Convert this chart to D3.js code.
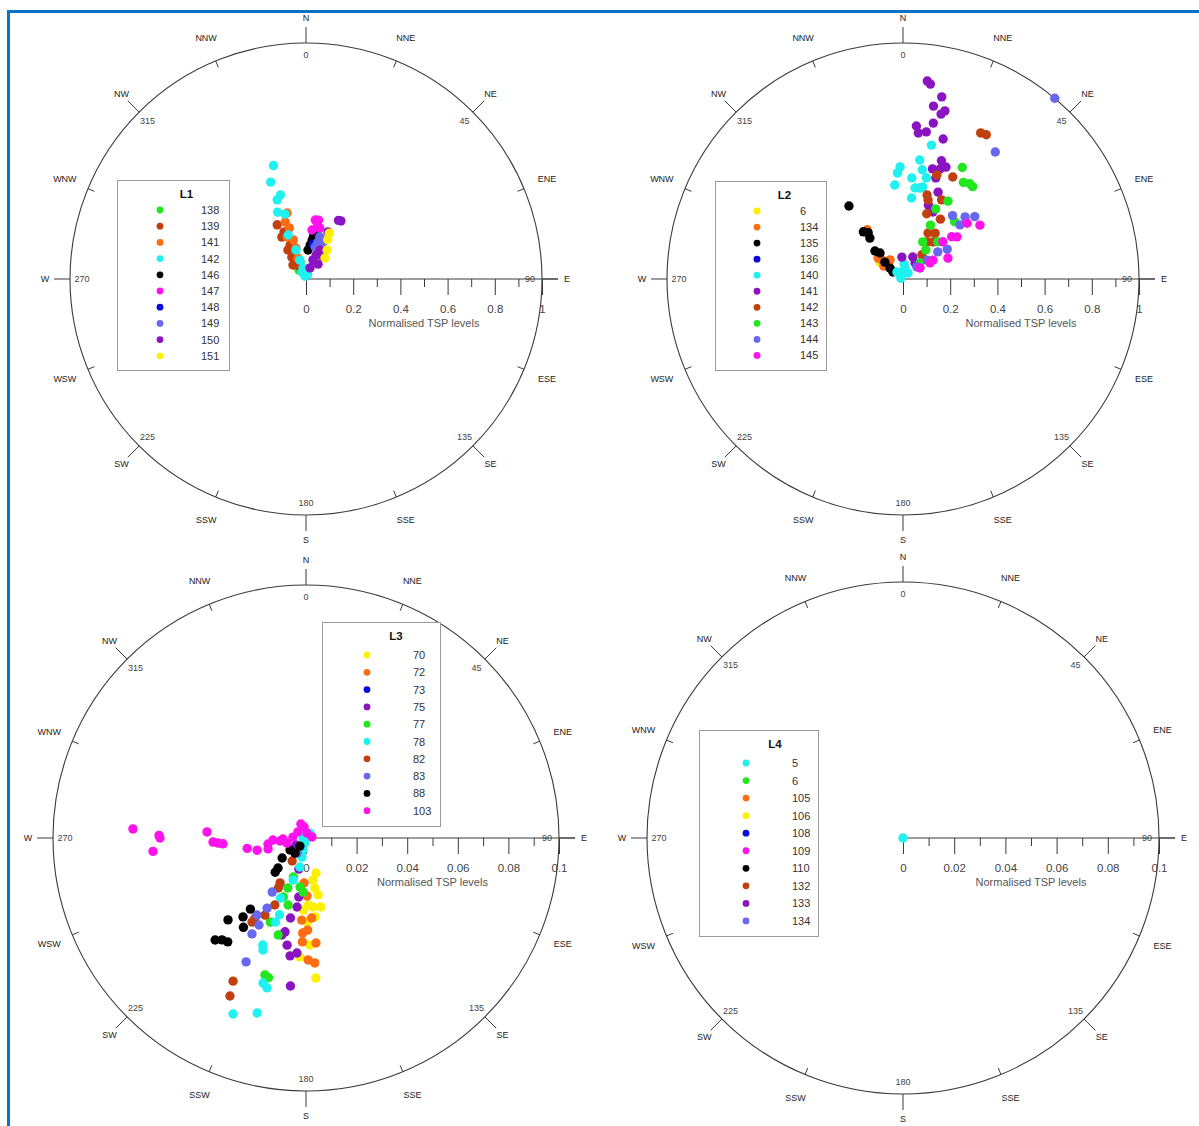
<!DOCTYPE html>
<html>
<head>
<meta charset="utf-8">
<script src="https://cdn.jsdelivr.net/npm/d3@7"></script>
<style>
  body { margin: 0; background: #fff; }
  svg { display: block; }
  text { font-family: "Liberation Sans", Arial, sans-serif; }
</style>
</head>
<body>
<svg id="chart" width="1199" height="1126"></svg>
<script>
// Marker colours shared by all four locations
const palette = {
  green: "#22e61e", rust: "#c1400e", orange: "#ff6c12", cyan: "#1ff0f0",
  black: "#000000", magenta: "#ff12ec", blue: "#0808e0", slate: "#6868ee",
  purple: "#8a14c2", yellow: "#fff000"
};

// Compass rose
const compassPoints = ["N","NNE","NE","ENE","E","ESE","SE","SSE","S","SSW","SW","WSW","W","WNW","NW","NNW"];
const bearingLabels = ["0","45","90","135","180","225","270","315"];

// Radial axis ticks
const fullTicks = [0, 0.2, 0.4, 0.6, 0.8, 1];
const fullTickLabels = ["0", "0.2", "0.4", "0.6", "0.8", "1"];
const fullMinorTicks = [0.1, 0.3, 0.5, 0.7, 0.9];
const tenthTicks = [0, 0.02, 0.04, 0.06, 0.08, 0.1];
const tenthTickLabels = ["0", "0.02", "0.04", "0.06", "0.08", "0.1"];
const tenthMinorTicks = [0.01, 0.03, 0.05, 0.07, 0.09];

// L1: wind direction (deg) and normalised TSP level per sampling day
const l1Sites = ["138","139","141","142","146","147","148","149","150","151"];
const l1Colors = ["green","rust","orange","cyan","black","magenta","blue","slate","purple","yellow"];
const l1Readings = [
  [[341,0.076],[325,0.067],[330,0.034],[322,0.048],[335,0.06]],
  [[332,0.26],[335,0.22],[330,0.205],[335,0.159],[328,0.145],[327,0.11],[317,0.081],[333,0.057]],
  [[344,0.291],[340,0.257],[342,0.228],[336,0.195],[342,0.174],[342,0.138],[339,0.095]],
  [[344,0.50],[340,0.437],[343,0.372],[340,0.357],[337,0.308],[342,0.289],[338,0.201],[341,0.13],[342,0.084],[345,0.048],[330,0.034],[340,0.013],[20,0.02]],
  [[13,0.213],[10,0.185],[9,0.167],[7,0.145],[4,0.123]],
  [[9,0.253],[12,0.255],[7,0.209],[12,0.234],[15,0.224]],
  [[12,0.15]],
  [[18,0.188],[16,0.141],[18,0.165],[25,0.163]],
  [[29,0.284],[31,0.287],[25,0.22],[26,0.136],[20,0.086],[20,0.05],[38,0.118],[39,0.081],[23,0.11]],
  [[27,0.218],[29,0.19],[36,0.152],[42,0.12]]
];

// L2
const l2Sites = ["6","134","135","136","140","141","142","143","144","145"];
const l2Colors = ["yellow","orange","black","blue","cyan","purple","rust","green","slate","magenta"];
const l2Readings = [
  [[306,0.121]],
  [[324,0.258],[312,0.12],[317,0.099],[326,0.098],[310,0.138],[304,0.098]],
  [[323.5,0.385],[320,0.261],[321,0.223],[323,0.245],[315,0.168],[318.5,0.147],[313,0.105],[310,0.072],[305,0.052]],
  [[16,0.03]],
  [[12,0.58],[8,0.509],[358.5,0.475],[357,0.45],[355,0.4],[5,0.43],[10,0.47],[13,0.44],[7.5,0.389],[10.6,0.392],[6,0.345],[12,0.399],[350,0.026],[10,0.047],[290,0.01],[40,0.033],[319,0.039],[4,0.064]],
  [[7,0.845],[8,0.834],[12,0.789],[10,0.744],[14,0.734],[13,0.717],[11,0.673],[5,0.651],[6,0.622],[9,0.631],[16,0.617],[18,0.527],[15,0.483],[18.6,0.492],[21,0.508],[18,0.45],[22,0.397],[19,0.331],[24,0.311],[357,0.093],[24,0.102],[37,0.085]],
  [[28,0.701],[30,0.706],[26,0.481],[18,0.464],[16,0.37],[17.6,0.351],[26,0.373],[20,0.294],[32,0.299],[28.5,0.222],[35,0.237],[33,0.187],[39,0.202],[38,0.13]],
  [[28,0.535],[32,0.483],[37,0.49],[35,0.493],[30,0.381],[25,0.328],[42,0.327],[27,0.256],[28,0.178],[43,0.216],[47,0.099],[38,0.157]],
  [[40,1.0],[36,0.665],[49,0.403],[45,0.372],[38,0.341],[46.5,0.333],[56,0.226],[52,0.187],[52,0.13],[49,0.078]],
  [[55,0.398],[52,0.29],[49,0.273],[65,0.21],[58,0.15],[59,0.133],[57,0.086],[47,0.231],[49,0.36]]
];

// L3
const l3Sites = ["70","72","73","75","77","78","82","83","88","103"];
const l3Colors = ["yellow","orange","blue","purple","green","cyan","rust","slate","black","magenta"];
const l3Readings = [
  [[164,0.0144],[170.5,0.0168],[170,0.0201],[178,0.0265],[174,0.0274],[168,0.0279],[182,0.0285],[173.5,0.0314],[178,0.0423],[183,0.0471],[176,0.0555],[179,0.0332],[168,0.023]],
  [[183,0.0325],[176,0.0317],[179,0.0229],[182.5,0.0178],[179,0.0364],[182,0.0376],[182,0.0411],[174.6,0.0417],[179,0.0482],[176,0.0495]],
  [[210,0.0064]],
  [[193,0.0126],[187,0.0235],[187.4,0.0275],[191,0.0322],[192.6,0.038],[194,0.0395],[190,0.043],[187.7,0.047],[184.5,0.0456],[186,0.0588],[235,0.0048]],
  [[200,0.021],[187,0.0195],[198,0.0162],[201,0.025],[195,0.0274],[203,0.0361],[196,0.0399],[196.7,0.0565],[195,0.0572],[183,0.0214]],
  [[45,0.0017],[191,0.002],[194,0.0049],[192,0.0077],[192,0.0117],[197,0.0174],[203,0.0258],[199,0.0321],[200,0.0354],[202,0.0456],[201,0.0474],[196.5,0.0598],[194.6,0.0612],[195.6,0.0718],[202.5,0.0753],[39,0.0025],[270,0.0012]],
  [[211,0.0106],[210,0.0205],[209,0.0226],[205,0.0292],[208,0.0345],[212.5,0.0375],[212.7,0.0395],[207,0.0635],[205.7,0.0693]],
  [[212,0.0252],[209,0.0317],[212.5,0.0361],[208.4,0.0391],[209.4,0.0435],[205.8,0.0544],[211,0.0069]],
  [[230,0.0123],[223,0.0162],[222,0.0182],[233,0.0079],[216,0.0074],[218,0.0357],[218.6,0.0399],[215,0.0431],[223.6,0.0447],[221.7,0.054],[219.5,0.0522],[217,0.0514],[217,0.004]],
  [[273,0.0685],[271,0.0581],[270,0.0577],[265,0.0607],[273.5,0.0392],[267.5,0.0368],[266.7,0.0348],[266,0.0329],[260,0.0236],[256,0.0199],[261,0.0152],[266.5,0.0131],[263.4,0.0103],[267.5,0.0091],[254,0.0156],[350,0.0044],[307,0.004],[11,0.002],[80,0.0024],[274,0.0052],[255,0.0078],[340,0.0059]]
];

// L4
const l4Sites = ["5","6","105","106","108","109","110","132","133","134"];
const l4Colors = ["cyan","green","orange","yellow","blue","magenta","black","rust","purple","slate"];
const l4Readings = [
  [[0,0]],
  [], [], [], [], [], [], [], [], []
];

const panels = [
  { title: "L1", sites: l1Sites, colors: l1Colors, readings: l1Readings,
    cx: 306, cy: 279, R: 236, max: 1, ticks: fullTicks, tickLabels: fullTickLabels, minor: fullMinorTicks,
    legend: { x: 117, y: 180, w: 112, h: 190, dotX: 43, textX: 84, firstRow: 30, step: 16.2 } },
  { title: "L2", sites: l2Sites, colors: l2Colors, readings: l2Readings,
    cx: 903, cy: 279, R: 236, max: 1, ticks: fullTicks, tickLabels: fullTickLabels, minor: fullMinorTicks,
    legend: { x: 715, y: 181, w: 111, h: 189, dotX: 42, textX: 85, firstRow: 30, step: 16.05 } },
  { title: "L3", sites: l3Sites, colors: l3Colors, readings: l3Readings,
    cx: 306, cy: 838, R: 253, max: 0.1, ticks: tenthTicks, tickLabels: tenthTickLabels, minor: tenthMinorTicks,
    legend: { x: 322, y: 622, w: 118, h: 204, dotX: 45, textX: 91, firstRow: 33, step: 17.3 } },
  { title: "L4", sites: l4Sites, colors: l4Colors, readings: l4Readings,
    cx: 903, cy: 838, R: 256, max: 0.1, ticks: tenthTicks, tickLabels: tenthTickLabels, minor: tenthMinorTicks,
    legend: { x: 699, y: 730, w: 119, h: 206, dotX: 47, textX: 93, firstRow: 33, step: 17.55 } }
];

const svg = d3.select("#chart");
const lineColor = "#3a3a3a";

// Frame along the top and left of the figure
svg.append("line").attr("x1", 7).attr("x2", 1199).attr("y1", 11.5).attr("y2", 11.5)
  .attr("stroke", "#0a72c4").attr("stroke-width", 3);
svg.append("line").attr("x1", 8.5).attr("x2", 8.5).attr("y1", 10).attr("y2", 1126)
  .attr("stroke", "#0a72c4").attr("stroke-width", 3);

const angle = d3.scaleLinear().domain([0, 360]).range([0, 2 * Math.PI]);

panels.forEach(p => {
  const g = svg.append("g").attr("transform", `translate(${p.cx},${p.cy})`);
  const radius = d3.scaleLinear().domain([0, p.max]).range([0, p.R]);

  // outer circle
  g.append("circle").attr("r", p.R).attr("fill", "none").attr("stroke", lineColor).attr("stroke-width", 1.1);

  // compass ticks and labels
  compassPoints.forEach((name, i) => {
    const a = angle(i * 22.5);
    const major = i % 2 === 0;
    const [x1, y1] = d3.pointRadial(a, p.R);
    const [x2, y2] = d3.pointRadial(a, major ? p.R + 16 : p.R - 7);
    g.append("line").attr("x1", x1).attr("y1", y1).attr("x2", x2).attr("y2", y2)
      .attr("stroke", lineColor).attr("stroke-width", 1);
    const [lx, ly] = d3.pointRadial(a, p.R + 25);
    g.append("text").attr("x", lx).attr("y", ly)
      .attr("text-anchor", "middle").attr("dominant-baseline", "central")
      .attr("font-size", 9).attr("fill", "#222").text(name);
  });

  bearingLabels.forEach((lab, i) => {
    const [lx, ly] = d3.pointRadial(angle(i * 45), p.R - 12);
    g.append("text").attr("x", lx).attr("y", ly)
      .attr("text-anchor", "middle").attr("dominant-baseline", "central")
      .attr("font-size", 9).attr("fill", "#444").text(lab);
  });

  // radial axis pointing east
  g.append("line").attr("x1", 0).attr("x2", p.R + 16).attr("y1", 0).attr("y2", 0)
    .attr("stroke", lineColor).attr("stroke-width", 1.1);

  const majorAxis = d3.axisBottom(radius).tickValues(p.ticks).tickSize(16).tickPadding(10)
    .tickFormat((d, i) => p.tickLabels[i]);
  const ax = g.append("g").call(majorAxis);
  ax.select(".domain").remove();
  ax.selectAll(".tick line").attr("stroke", lineColor);
  ax.selectAll(".tick text").attr("font-size", 11.5).attr("fill", "#444")
    .attr("font-family", "\"Liberation Sans\", Arial, sans-serif");

  const minorAxis = d3.axisBottom(radius).tickValues(p.minor).tickSize(8).tickFormat("");
  const mx = g.append("g").call(minorAxis);
  mx.select(".domain").remove();
  mx.selectAll(".tick line").attr("stroke", lineColor);

  g.append("text").attr("x", p.R / 2).attr("y", 43.5)
    .attr("text-anchor", "middle").attr("dominant-baseline", "central")
    .attr("font-size", 11).attr("fill", "#555").text("Normalised TSP levels");

  // observations
  p.readings.forEach((series, si) => {
    g.append("g").selectAll("circle").data(series).join("circle")
      .attr("cx", d => d3.pointRadial(angle(d[0]), radius(d[1]))[0])
      .attr("cy", d => d3.pointRadial(angle(d[0]), radius(d[1]))[1])
      .attr("r", 4.7)
      .attr("fill", palette[p.colors[si]]);
  });

  // legend
  const L = p.legend;
  const lg = svg.append("g").attr("transform", `translate(${L.x},${L.y})`);
  lg.append("rect").attr("x", 0.5).attr("y", 0.5).attr("width", L.w).attr("height", L.h)
    .attr("fill", "#fff").attr("stroke", "#9a9a9a");
  lg.append("text").attr("x", (L.dotX + L.textX) / 2 + 6).attr("y", 14)
    .attr("text-anchor", "middle").attr("dominant-baseline", "central")
    .attr("font-size", 11.5).attr("font-weight", "bold").attr("fill", "#111").text(p.title);
  p.sites.forEach((s, i) => {
    const y = L.firstRow + i * L.step;
    lg.append("circle").attr("cx", L.dotX).attr("cy", y).attr("r", 3.4).attr("fill", palette[p.colors[i]]);
    lg.append("text").attr("x", L.textX).attr("y", y).attr("dominant-baseline", "central")
      .attr("font-size", 11).attr("fill", "#333").text(s);
  });
});
</script>
</body>
</html>
